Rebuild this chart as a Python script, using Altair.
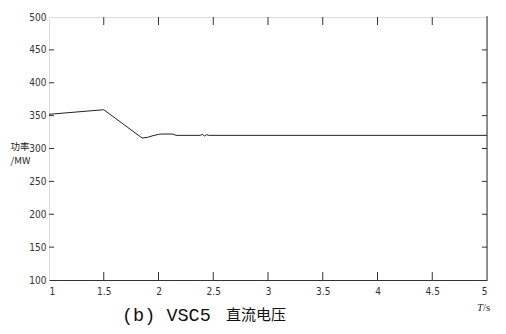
import altair as alt
import pandas as pd

# data
t_vals = [1.0, 1.5, 1.85, 1.9, 1.95, 2.0, 2.03, 2.13, 2.16, 2.38, 2.40, 2.42, 2.44, 2.46, 5.0]
p_vals = [352, 359, 316, 317, 319.5, 321.5, 322, 322, 320, 320, 321.5, 319, 321, 320, 320]
x_ticks = [1, 1.5, 2, 2.5, 3, 3.5, 4, 4.5, 5]
y_ticks = [100, 150, 200, 250, 300, 350, 400, 450, 500]
caption_latin = "(b) VSC5"
caption_cjk = "直流电压"
x_title = ["T", "/s"]
y_title = ["功率", "/MW"]

W, H = 438, 263
AX = "#333333"
LBL_FONT = "DejaVu Sans Condensed, Liberation Sans Narrow, sans-serif"

df = pd.DataFrame({"t": t_vals, "p": p_vals})
xs = alt.Scale(domain=[1, 5], nice=False)
ys = alt.Scale(domain=[100, 500], nice=False)

x_axis = alt.Axis(values=x_ticks, format="~g", title=None, ticks=False,
                  domain=True, domainColor=AX, labelColor=AX,
                  labelFont=LBL_FONT, labelFontSize=10, labelPadding=6,
                  labelOverlap=False, grid=False)
y_axis = alt.Axis(values=y_ticks, title=y_title, titleAngle=0,
                  titleFont="Noto Sans CJK SC", titleFontSize=9.5,
                  titleFontWeight="normal", titleColor="#222222",
                  titleX=-39, titleY=124, titleAlign="left",
                  titleBaseline="top", titleLineHeight=14,
                  ticks=False, domain=False, labelColor=AX,
                  labelFont=LBL_FONT, labelFontSize=10, labelPadding=3,
                  labelOverlap=False, grid=False)

line = alt.Chart(df).mark_line(color="#222222", strokeWidth=1).encode(
    x=alt.X("t:Q", scale=xs, axis=x_axis),
    y=alt.Y("p:Q", scale=ys, axis=y_axis),
)

xt = pd.DataFrame({"t": x_ticks[1:-1]})
yt = pd.DataFrame({"p": y_ticks[1:-1]})

top_ticks = alt.Chart(xt).mark_rule(color=AX, strokeWidth=1).encode(
    x=alt.X("t:Q", scale=xs, axis=x_axis), y=alt.value(0), y2=alt.value(8))
bot_ticks = alt.Chart(xt).mark_rule(color=AX, strokeWidth=1).encode(
    x=alt.X("t:Q", scale=xs, axis=x_axis), y=alt.value(H), y2=alt.value(H - 8))
left_ticks = alt.Chart(yt).mark_rule(color=AX, strokeWidth=1).encode(
    y=alt.Y("p:Q", scale=ys, axis=y_axis), x=alt.value(0), x2=alt.value(5))
right_ticks = alt.Chart(yt).mark_rule(color=AX, strokeWidth=1).encode(
    y=alt.Y("p:Q", scale=ys, axis=y_axis), x=alt.value(W), x2=alt.value(W - 5))
right_border = alt.Chart(pd.DataFrame({"a": [0]})).mark_rule(color=AX, strokeWidth=1).encode(
    x=alt.value(W), y=alt.value(-1), y2=alt.value(H))

cap1 = alt.Chart(pd.DataFrame({"c": [caption_latin]})).mark_text(
    font="Liberation Mono", fontSize=18.5, color="#111111",
    align="left", baseline="middle").encode(
    text="c:N", x=alt.value(73), y=alt.value(298))
cap2 = alt.Chart(pd.DataFrame({"c": [caption_cjk]})).mark_text(
    font="Noto Sans CJK SC", fontSize=15, color="#111111",
    align="left", baseline="middle").encode(
    text="c:N", x=alt.value(177), y=alt.value(298))

xlab = alt.Chart(pd.DataFrame({"c": [x_title[0]]})).mark_text(
    font="Liberation Serif", fontSize=11, fontStyle="italic", color=AX,
    align="right", baseline="middle").encode(
    text="c:N", x=alt.value(434), y=alt.value(291))
xlab2 = alt.Chart(pd.DataFrame({"c": [x_title[1]]})).mark_text(
    font="Liberation Serif", fontSize=11, color=AX,
    align="left", baseline="middle").encode(
    text="c:N", x=alt.value(434), y=alt.value(291))

chart = alt.layer(line, top_ticks, bot_ticks, left_ticks, right_ticks,
                  right_border, cap1, cap2, xlab, xlab2).properties(
    width=W, height=H,
    autosize=alt.AutoSizeParams(type="none"),
    padding={"left": 41, "top": 9, "right": 11, "bottom": 46},
).configure_view(stroke=None).configure(background="white")

chart.save("out.html", embed_options={"renderer": "svg", "actions": False})
